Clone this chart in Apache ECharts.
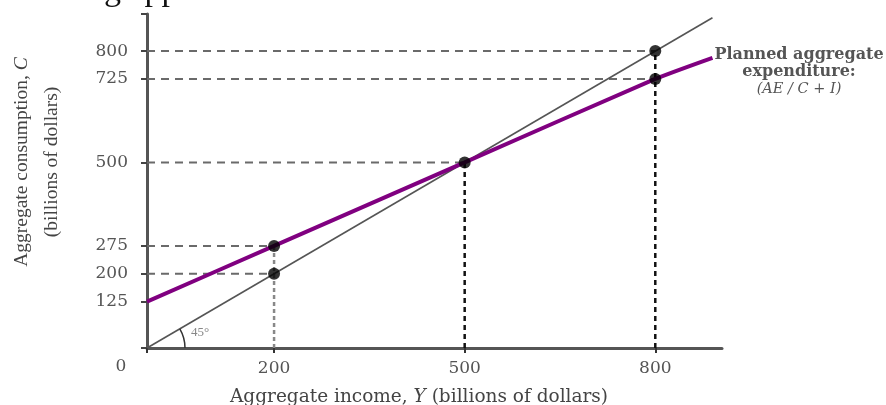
<!DOCTYPE html>
<html><head><meta charset="utf-8">
<script src="https://cdn.jsdelivr.net/npm/echarts@6/dist/echarts.min.js"></script>
<style>html,body{margin:0;padding:0;background:#fff}#c{width:886px;height:405px}</style>
</head><body><div id="c"></div>
<script>
// ---- data ----
const yTickLabels = [125, 200, 275, 500, 725, 800];
const xTickLabels = [200, 500, 800];
const line45 = [[0, 0], [890, 890]];
const aeLine = [[0, 125], [200, 275], [500, 500], [800, 725], [890, 782]];
const dots = [[200, 200], [200, 275], [500, 500], [800, 800], [800, 725]];
const hGuides = [[200, 200], [200, 275], [500, 500], [800, 725], [800, 800]]; // [x end, y]
const vGuidesGray = [[200, 275]];           // [x, y top]
const vGuidesBlack = [[500, 500], [800, 800]];

const serif = '"Liberation Serif", "DejaVu Serif", serif';
const wide = '"DejaVu Serif", serif';
const chart = echarts.init(document.getElementById('c'));

const series = [];
hGuides.forEach(g => series.push({
  type: 'line', data: [[0, g[1]], [g[0], g[1]]], symbol: 'none', silent: true, z: 1,
  lineStyle: { color: '#6a6a6a', width: 2, type: [8, 6] }
}));
vGuidesGray.forEach(g => series.push({
  type: 'line', data: [[g[0], 0], [g[0], g[1]]], symbol: 'none', silent: true, z: 1,
  lineStyle: { color: '#888', width: 2.5, type: [4, 3] }
}));
vGuidesBlack.forEach(g => series.push({
  type: 'line', data: [[g[0], 0], [g[0], g[1]]], symbol: 'none', silent: true, z: 1,
  lineStyle: { color: '#111', width: 2.5, type: [5, 4] }
}));
series.push({
  type: 'line', data: line45, symbol: 'none', z: 3,
  lineStyle: { color: '#555', width: 1.6 }
});
series.push({
  type: 'line', data: aeLine, symbol: 'none', smooth: 0.2, z: 4,
  lineStyle: { color: '#800080', width: 4 }
});
series.push({
  type: 'scatter', data: dots, symbol: 'circle', symbolSize: 12, z: 6,
  itemStyle: { color: '#000' }
});

chart.setOption({
  animation: false,
  backgroundColor: '#fff',
  grid: { left: 147, right: 164, top: 14, bottom: 57, outerBoundsMode: 'none' },
  xAxis: {
    type: 'value', min: 0, max: 905,
    splitLine: { show: false },
    axisLine: { onZero: false, lineStyle: { color: '#555', width: 3 } },
    axisTick: { customValues: [0].concat(xTickLabels), length: 5, lineStyle: { color: '#333', width: 2 } },
    axisLabel: { customValues: xTickLabels, margin: 12, color: '#555', fontFamily: wide, fontSize: 17 }
  },
  yAxis: {
    type: 'value', min: 0, max: 900,
    splitLine: { show: false },
    axisLine: { onZero: false, lineStyle: { color: '#555', width: 3 } },
    axisTick: { customValues: [0].concat(yTickLabels, [900]), length: 6, lineStyle: { color: '#444', width: 2 } },
    axisLabel: { customValues: yTickLabels, margin: 19, color: '#555', fontFamily: wide, fontSize: 17 }
  },
  series: series
});

const o = chart.convertToPixel({ gridIndex: 0 }, [0, 0]);
const p = chart.convertToPixel({ gridIndex: 0 }, [100, 100]);
const ang = Math.atan2(p[1] - o[1], p[0] - o[0]);

chart.setOption({
  graphic: [
    { type: 'arc', shape: { cx: o[0], cy: o[1], r: 38, startAngle: ang, endAngle: 0, clockwise: true },
      style: { stroke: '#333', lineWidth: 1.5, fill: null }, z: 10 },
    { type: 'text', x: o[0] + 44, y: o[1] - 15,
      style: { text: '45°', fill: '#888', font: '13px ' + serif, verticalAlign: 'middle' }, z: 10 },
    { type: 'text', x: o[0] - 26, y: o[1] + 19,
      style: { text: '0', fill: '#555', font: '17px ' + wide, align: 'center', verticalAlign: 'middle' }, z: 10 },
    { type: 'text', x: 230, y: 397,
      style: { text: '{n|Aggregate income, }{i|Y}{n| (billions of dollars)}', align: 'left', verticalAlign: 'middle',
        rich: { n: { fill: '#444', font: '18.5px ' + wide }, i: { fill: '#444', font: 'italic 18.5px ' + wide } } }, z: 10 },
    { type: 'text', x: 37, y: 162, rotation: Math.PI / 2,
      style: { text: '{n|Aggregate consumption, }{i|C}\n{n|(billions of dollars)}', align: 'center', verticalAlign: 'middle',
        rich: { n: { fill: '#444', font: '19.5px ' + serif, lineHeight: 30, align: 'center' }, i: { fill: '#444', font: 'italic 19.5px ' + serif, lineHeight: 30 } } }, z: 10 },
    { type: 'text', x: 799, y: 72,
      style: { text: '{n|Planned aggregate}\n{n|expenditure:}\n{i|(AE / C + I)}', align: 'center', verticalAlign: 'middle',
        rich: { n: { fill: '#555', font: 'bold 16px ' + wide, lineHeight: 17, align: 'center' }, i: { fill: '#555', font: 'italic 14.5px ' + wide, lineHeight: 17, align: 'center' } } }, z: 10 },
    { type: 'text', x: 104, y: 8,
      style: { text: 'g app', fill: '#111', font: '34px ' + serif, verticalAlign: 'bottom' }, z: 10 }
  ]
});
</script>
</body></html>
